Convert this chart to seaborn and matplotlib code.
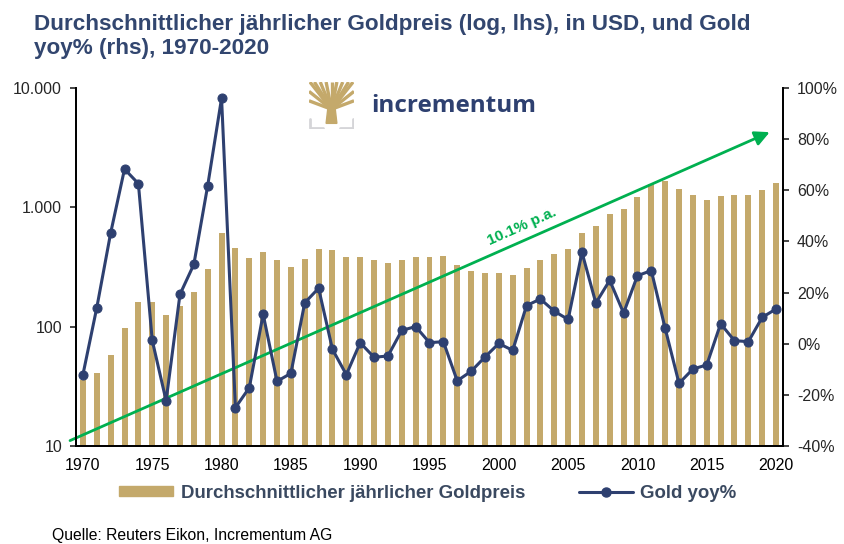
import numpy as np
import pandas as pd
import matplotlib
matplotlib.use("Agg")
import matplotlib.pyplot as plt
from matplotlib.patches import Patch, Polygon
from matplotlib.lines import Line2D
import seaborn as sns

# data
years = list(range(1970, 2021))
gold_price = [36, 41, 58, 98, 160, 161, 125, 148, 194, 307,
              613, 460, 376, 424, 361, 317, 368, 447, 437, 381,
              384, 362, 344, 360, 384, 384, 388, 331, 294, 279,
              280, 271, 310, 364, 409, 445, 604, 697, 872, 973,
              1225, 1572, 1669, 1411, 1266, 1160, 1251, 1257, 1268, 1393,
              1599]
gold_yoy = [-12.1, 14.1, 43.3, 68.3, 62.6, 1.3, -22.3, 19.3, 31.0, 61.8,
            96.0, -25.0, -17.2, 11.5, -14.7, -11.6, 16.0, 21.7, -2.2, -12.1,
            0.4, -5.3, -4.8, 5.2, 6.7, 0.4, 0.8, -14.5, -10.8, -5.2,
            0.1, -2.6, 14.9, 17.5, 12.7, 9.5, 35.7, 15.9, 24.8, 12.0,
            26.6, 28.6, 6.0, -15.5, -9.9, -8.3, 7.8, 1.2, 0.8, 10.3,
            13.6]
trend_years = [1969.07, 2019.54]
trend_values = [11.1, 4266]
left_ticks = [10, 100, 1000, 10000]
left_labels = ["10", "100", "1.000", "10.000"]
right_ticks = [-40, -20, 0, 20, 40, 60, 80, 100]
label_years = [1970, 1975, 1980, 1985, 1990, 1995, 2000, 2005, 2010, 2015, 2020]

gold = "#C4A96B"
navy = "#2E4070"
green = "#00B050"
title_col = "#32466F"
legend_col = "#3A4960"

sns.set_style("white")
plt.rcParams["font.family"] = ["Liberation Sans", "DejaVu Sans"]

df = pd.DataFrame({"year": years, "price": gold_price, "yoy": gold_yoy})
df["pos"] = np.arange(len(df))

fig = plt.figure(figsize=(8.45, 5.44), dpi=100)
ax = fig.add_axes([76 / 845, 1 - 446 / 544, 707 / 845, 358 / 544])

sns.barplot(data=df, x="year", y="price", color=gold, saturation=1,
            width=0.43, linewidth=0, ax=ax)
ax.set_yscale("log")
ax.set_ylim(10, 10000)
ax.set_xlim(-0.5, len(years) - 0.5)
ax.set_yticks(left_ticks)
ax.set_yticklabels(left_labels)
ax.yaxis.set_minor_locator(matplotlib.ticker.NullLocator())
ax.set_xlabel("")
ax.set_ylabel("")

# labels sit on category centres, tick marks on the category borders
pos_labels = [y - years[0] for y in label_years]
ax.set_xticks(pos_labels)
ax.set_xticklabels([str(y) for y in label_years])
ax.set_xticks([p - 0.5 for p in pos_labels], minor=True)
ax.tick_params(axis="x", which="major", length=0, pad=9, labelsize=11.5, colors="black")
ax.tick_params(axis="x", which="minor", length=4, width=1.2, direction="out", color="black")
ax.tick_params(axis="y", length=4, width=1.2, direction="out", pad=6, labelsize=11.5, left=True)

ax2 = ax.twinx()
sns.lineplot(data=df, x="pos", y="yoy", ax=ax2, color=navy, linewidth=2.2,
             marker="o", markersize=6.5, markeredgecolor=navy)
ax2.set_ylim(-40, 100)
ax2.set_yticks(right_ticks)
ax2.set_yticklabels([f"{t}%" for t in right_ticks])
ax2.set_ylabel("")
ax2.set_xlabel("")
ax2.tick_params(axis="y", length=4, width=1.2, direction="out", pad=6, labelsize=11.5, right=True)

for a in (ax, ax2):
    a.spines["top"].set_visible(False)
    for s in ("left", "right", "bottom"):
        a.spines[s].set_color("black")
        a.spines[s].set_linewidth(1.3)

# trend arrow
tx = [y - years[0] for y in trend_years]
ax.annotate("", xy=(tx[1], trend_values[1]), xytext=(tx[0], trend_values[0]),
            arrowprops=dict(arrowstyle="-|>", color=green, lw=2, mutation_scale=22,
                            shrinkA=0, shrinkB=0),
            annotation_clip=False, zorder=5)
fig.text(522 / 845, 1 - 227 / 544, "10.1% p.a.", color=green, fontsize=11,
         fontweight="bold", rotation=24, ha="center", va="center")

# title
fig.text(34 / 845, 1 - 14 / 544,
         "Durchschnittlicher jährlicher Goldpreis (log, lhs), in USD, und Gold\nyoy% (rhs), 1970-2020",
         fontsize=16.2, fontweight="bold", color=title_col, ha="left", va="top",
         linespacing=1.2)

# logo
fig.text(371 / 845, 1 - 106 / 544, "incrementum", fontsize=17.5, color=navy,
         fontweight="bold", family=["Open Sans", "DejaVu Sans"],
         ha="left", va="center")
lax = fig.add_axes([309 / 845, 1 - 129 / 544, 45 / 845, 47 / 544])
lax.set_xlim(0, 1)
lax.set_ylim(0, 1)
lax.axis("off")
lax.add_patch(Polygon([[0.38, 0.12], [0.62, 0.12], [0.58, 0.45], [0.42, 0.45]],
                      closed=True, color=gold))
for end in [(0.02, 1.0), (0.12, 1.0), (0.25, 1.0), (0.38, 1.0), (0.5, 1.0),
            (0.62, 1.0), (0.75, 1.0), (0.88, 1.0), (0.98, 1.0),
            (0.0, 0.8), (1.0, 0.8), (0.0, 0.6), (1.0, 0.6)]:
    lax.plot([0.5, end[0]], [0.42, end[1]], color=gold, lw=2.4, solid_capstyle="butt")
lax.plot([0.03, 0.03, 0.3], [0.22, 0.03, 0.03], color="#D5D5D8", lw=2)
lax.plot([0.97, 0.97, 0.7], [0.22, 0.03, 0.03], color="#D5D5D8", lw=2)

# legend
handles = [Patch(facecolor=gold, edgecolor=gold),
           Line2D([0], [0], color=navy, lw=2.2, marker="o", markersize=6.5)]
labels = ["Durchschnittlicher jährlicher Goldpreis", "Gold yoy%"]
leg = fig.legend(handles, labels, loc="center", bbox_to_anchor=(428 / 845, 1 - 493 / 544),
                 ncol=2, frameon=False, handlelength=2.9, handleheight=0.5,
                 columnspacing=2.9, handletextpad=0.4,
                 prop={"size": 13.4, "weight": "bold"})
for t in leg.get_texts():
    t.set_color(legend_col)

fig.text(52 / 845, 1 - 540 / 544, "Quelle: Reuters Eikon, Incrementum AG",
         fontsize=11.3, color="black", ha="left", va="baseline")

fig.savefig("out.png", dpi=100)
